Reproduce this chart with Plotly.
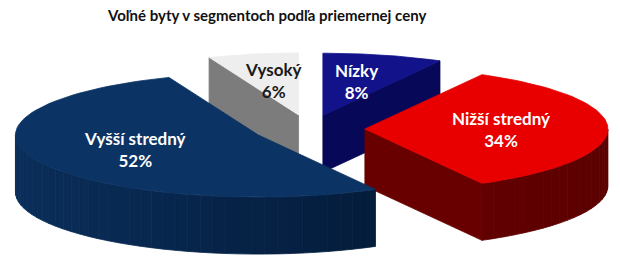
import numpy as np
import plotly.graph_objects as go

# ---- data ----
categories = ["Nízky", "Nižší stredný", "Vyšší stredný", "Vysoký"]
shares = [8, 34, 52, 6]
title_text = "Voľné byty v segmentoch podľa priemernej ceny"

# ---- style ----
top_colors = [(18, 18, 138), (232, 0, 0), (11, 51, 100), (238, 238, 238)]
side_light = [(10, 10, 100), (112, 0, 0), (10, 46, 90), (128, 128, 128)]
side_dark = [(4, 4, 70), (92, 0, 0), (2, 22, 48), (110, 110, 110)]
wall_colors = [(8, 8, 88), (104, 0, 0), (6, 34, 70), (124, 124, 124)]
label_colors = ["white", "white", "white", "#1a1a1a"]

W, H = 620, 262
CX, CY = 309.0, 129.0     # pie centre (pixels)
RA, RB = 243.0, 62.0      # ellipse radii
DEPTH = 57.0
EXPLODE = 0.23
LABEL_K = 0.56
FONT = "Lato"


def rgb(c):
    return "rgb(%d,%d,%d)" % tuple(int(round(v)) for v in c)


def mix(c1, c2, t):
    return tuple(a + (b - a) * t for a, b in zip(c1, c2))


fig = go.Figure()

total = float(sum(shares))
cum = np.concatenate([[0.0], np.cumsum(shares)]) / total * 360.0
slices = []
for i, v in enumerate(shares):
    s, t = cum[i], cum[i + 1]
    mid = np.radians((s + t) / 2)
    ox = CX + RA * EXPLODE * np.sin(mid)
    oy = CY - RB * EXPLODE * np.cos(mid)
    slices.append((i, s, t, ox, oy, mid))


def pt(ox, oy, th_deg, z=0.0, r=1.0):
    th = np.radians(th_deg)
    return ox + r * RA * np.sin(th), oy - r * RB * np.cos(th) + z


def poly(xs, ys, color):
    fig.add_trace(go.Scatter(
        x=list(xs) + [xs[0]], y=list(ys) + [ys[0]], mode="lines",
        fill="toself", fillcolor=color,
        line=dict(color=color, width=0.8),
        hoverinfo="skip", showlegend=False))


# painter's order: back slices first
for i, s, t, ox, oy, mid in sorted(slices, key=lambda q: q[4]):
    # radial walls facing the viewer
    for ang, vis in ((s, np.sin(np.radians(s)) < -1e-9),
                     (t, np.sin(np.radians(t)) > 1e-9)):
        if vis:
            x1, y1 = pt(ox, oy, ang)
            xs = [ox, x1, x1, ox]
            ys = [oy, y1, y1 + DEPTH, oy + DEPTH]
            poly(xs, ys, rgb(wall_colors[i]))
    # outer front side (cos < 0 -> 90..270 deg)
    a0, a1 = max(s, 90.0), min(t, 270.0)
    if a1 > a0:
        n = max(2, int((a1 - a0) / 3))
        edges = np.linspace(a0, a1, n + 1)
        for k in range(n):
            e0, e1 = edges[k], edges[k + 1]
            arc = np.linspace(e0, e1, 4)
            top = [pt(ox, oy, a) for a in arc]
            bot = [pt(ox, oy, a, DEPTH) for a in arc[::-1]]
            xs = [p[0] for p in top + bot]
            ys = [p[1] for p in top + bot]
            m = np.radians((e0 + e1) / 2)
            tt = (1 + np.sin(m)) / 2   # 0 at left (270), 1 at right (90)
            poly(xs, ys, rgb(mix(side_light[i], side_dark[i], tt)))
    # top face
    arc = np.linspace(s, t, 80)
    pts = [pt(ox, oy, a) for a in arc]
    xs = [ox] + [p[0] for p in pts]
    ys = [oy] + [p[1] for p in pts]
    poly(xs, ys, rgb(top_colors[i]))

# labels
for i, s, t, ox, oy, mid in slices:
    lx = ox + LABEL_K * RA * np.sin(mid)
    ly = oy - LABEL_K * RB * np.cos(mid)
    fig.add_annotation(
        x=lx, y=ly, xref="x", yref="y", showarrow=False,
        text="<b>%s<br>%d%%</b>" % (categories[i], shares[i]),
        font=dict(family=FONT, size=17, color=label_colors[i]),
        align="center", xanchor="center", yanchor="middle")

fig.add_annotation(
    x=266, y=15, xref="x", yref="y", showarrow=False,
    text="<b>%s</b>" % title_text,
    font=dict(family=FONT, size=15, color="#111111"),
    xanchor="center", yanchor="middle")

fig.update_layout(
    width=W, height=H, margin=dict(l=0, r=0, t=0, b=0),
    paper_bgcolor="white", plot_bgcolor="white",
    xaxis=dict(range=[0, W], visible=False, fixedrange=True),
    yaxis=dict(range=[H, 0], visible=False, fixedrange=True),
    showlegend=False)

fig.write_html("out.html")
